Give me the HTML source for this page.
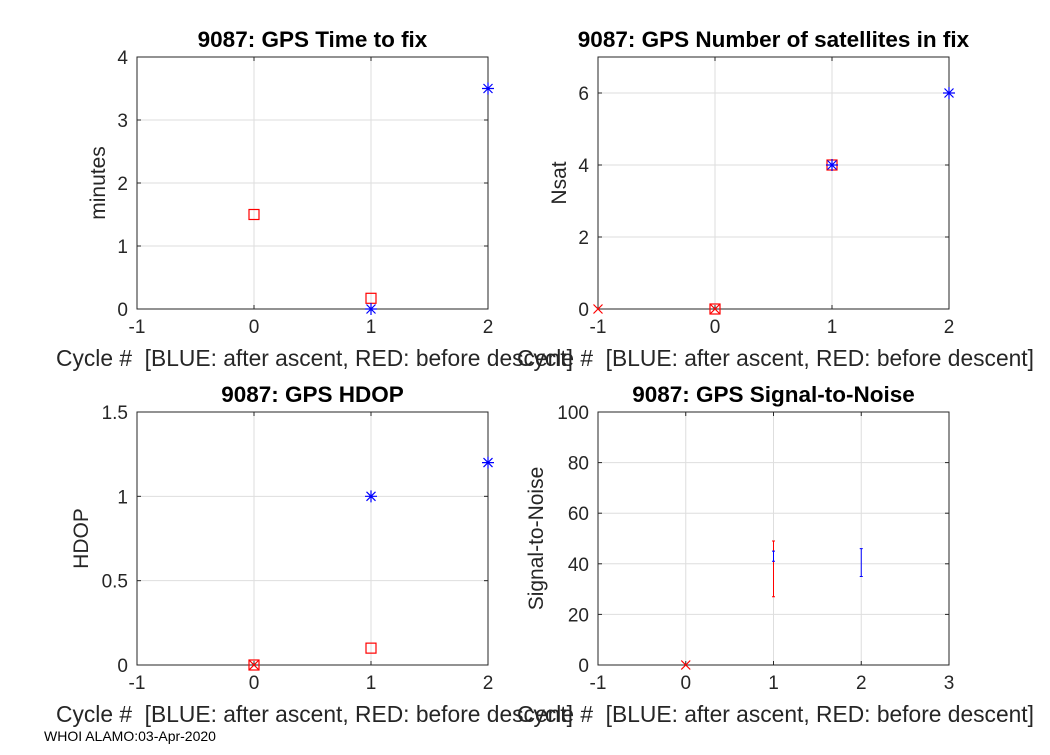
<!DOCTYPE html>
<html><head><meta charset="utf-8"><style>
body{margin:0;background:#fff;width:1050px;height:750px;overflow:hidden;font-family:"Liberation Sans",Arial,sans-serif}
svg text{font-family:"Liberation Sans",Arial,sans-serif;white-space:pre}
</style></head><body>
<svg id="fig" width="1050" height="750"></svg>
<script>
// Data arrays
const p1Blue = [[1,0],[2,3.5]];
const p1Red = [[0,1.5],[1,0.17]];
const p2Blue = [[1,4],[2,6]];
const p2RedSq = [[0,0],[1,4]];
const p2RedX = [[-1,0],[0,0]];
const p3Blue = [[1,1],[2,1.2]];
const p3RedSq = [[0,0],[1,0.1]];
const p3RedX = [[0,0]];
const p4RedX = [[0,0]];
const p4RedErr = [[1,27,49]];
const p4BlueErr = [[1,41,45],[2,35,46]];
const xTicks13 = [-1,0,1,2,3];
const xTicks12 = [-1,0,1,2];

const NS='http://www.w3.org/2000/svg';
const svg=document.getElementById('fig');
function mk(tag,attrs,parent){const e=document.createElementNS(NS,tag);for(const k in attrs)e.setAttribute(k,attrs[k]);(parent||svg).appendChild(e);return e;}

function panel(cfg){
  const g=mk('g',{});
  
  
  const X=v=>cfg.x0+(v-cfg.xmin)/(cfg.xmax-cfg.xmin)*(cfg.x1-cfg.x0);
  const Y=v=>cfg.y1-(v-cfg.ymin)/(cfg.ymax-cfg.ymin)*(cfg.y1-cfg.y0);
  cfg.xt.forEach(t=>{mk('line',{x1:X(t),x2:X(t),y1:cfg.y0,y2:cfg.y1,stroke:'#dedede'},g);});
  cfg.yt.forEach(t=>{mk('line',{x1:cfg.x0,x2:cfg.x1,y1:Y(t),y2:Y(t),stroke:'#dedede'},g);});
  mk('rect',{x:cfg.x0,y:cfg.y0,width:cfg.x1-cfg.x0,height:cfg.y1-cfg.y0,stroke:'#262626',fill:'none'},g);
  cfg.xt.forEach(t=>{mk('line',{x1:X(t),x2:X(t),y1:cfg.y1,y2:cfg.y1-4,stroke:'#262626'},g);
    mk('line',{x1:X(t),x2:X(t),y1:cfg.y0,y2:cfg.y0+4,stroke:'#262626'},g);
    const tx=mk('text',{x:X(t),y:cfg.y1+24,'text-anchor':'middle','font-size':19,fill:'#262626'},g);tx.textContent=t;
    });
  cfg.yt.forEach((t,i)=>{mk('line',{x1:cfg.x0,x2:cfg.x0+4,y1:Y(t),y2:Y(t),stroke:'#262626'},g);
    mk('line',{x1:cfg.x1,x2:cfg.x1-4,y1:Y(t),y2:Y(t),stroke:'#262626'},g);
    const tx=mk('text',{x:cfg.x0-9,y:Y(t)+7,'text-anchor':'end','font-size':19,fill:'#262626'},g);tx.textContent=t;
    });
  const ti=mk('text',{x:(cfg.x0+cfg.x1)/2,y:cfg.y0-10,'text-anchor':'middle','font-size':22.5,'font-weight':'bold',fill:'#000'},g);ti.textContent=cfg.title;
  
  const xl=mk('text',{x:(cfg.x0+cfg.x1)/2+2,y:cfg.y1+57,'text-anchor':'middle','font-size':22.8,fill:'#262626'},g);xl.textContent='Cycle #  [BLUE: after ascent, RED: before descent]';
  
  const cy=(cfg.y0+cfg.y1)/2;
  const yl=mk('text',{x:cfg.ylx,y:cy,'text-anchor':'middle','font-size':21,fill:'#262626',transform:`rotate(-90 ${cfg.ylx} ${cy})`},g);yl.textContent=cfg.ylabel;
  
  return {g,X,Y};
}
function star(g,x,y){const p=mk('path',{d:`M${x-6} ${y}H${x+6}M${x} ${y-6}V${y+6}M${x-4.5} ${y-4.5}L${x+4.5} ${y+4.5}M${x-4.5} ${y+4.5}L${x+4.5} ${y-4.5}`,stroke:'#0000ff','stroke-width':1.2,fill:'none'},g);
  }
function sq(g,x,y){const r=mk('rect',{x:x-5,y:y-5,width:10,height:10,stroke:'#ff0000','stroke-width':1.2,fill:'none'},g);
  }
function xm(g,x,y){const p=mk('path',{d:`M${x-4.5} ${y-4.5}L${x+4.5} ${y+4.5}M${x-4.5} ${y+4.5}L${x+4.5} ${y-4.5}`,stroke:'#ff0000','stroke-width':1.2},g);
  }
function err(g,x,ya,yb,c){const p=mk('path',{d:`M${x} ${ya}V${yb}M${x-1.5} ${ya}H${x+1.5}M${x-1.5} ${yb}H${x+1.5}`,stroke:c,'stroke-width':1,fill:'none'},g);
  }

let a=panel({name:'time-to-fix-panel',x0:137,x1:488,y0:57,y1:309,xmin:-1,xmax:2,ymin:0,ymax:4,xt:xTicks12,yt:[0,1,2,3,4],title:'9087: GPS Time to fix',ylabel:'minutes',ylx:105});
p1Red.forEach(d=>sq(a.g,a.X(d[0]),a.Y(d[1])));
p1Blue.forEach(d=>star(a.g,a.X(d[0]),a.Y(d[1])));

a=panel({name:'num-satellites-panel',x0:598,x1:949,y0:57,y1:309,xmin:-1,xmax:2,ymin:0,ymax:7,xt:xTicks12,yt:[0,2,4,6],title:'9087: GPS Number of satellites in fix',ylabel:'Nsat',ylx:566});
p2RedSq.forEach(d=>sq(a.g,a.X(d[0]),a.Y(d[1])));
p2RedX.forEach(d=>xm(a.g,a.X(d[0]),a.Y(d[1])));
p2Blue.forEach(d=>star(a.g,a.X(d[0]),a.Y(d[1])));

a=panel({name:'hdop-panel',x0:137,x1:488,y0:412,y1:665,xmin:-1,xmax:2,ymin:0,ymax:1.5,xt:xTicks12,yt:[0,0.5,1,1.5],title:'9087: GPS HDOP',ylabel:'HDOP',ylx:88});
p3RedSq.forEach(d=>sq(a.g,a.X(d[0]),a.Y(d[1])));
p3RedX.forEach(d=>xm(a.g,a.X(d[0]),a.Y(d[1])));
p3Blue.forEach(d=>star(a.g,a.X(d[0]),a.Y(d[1])));

a=panel({name:'signal-to-noise-panel',x0:598,x1:949,y0:412,y1:665,xmin:-1,xmax:3,ymin:0,ymax:100,xt:xTicks13,yt:[0,20,40,60,80,100],title:'9087: GPS Signal-to-Noise',ylabel:'Signal-to-Noise',ylx:543});
p4RedErr.forEach(d=>err(a.g,a.X(d[0]),a.Y(d[1]),a.Y(d[2]),'#ff0000'));
p4BlueErr.forEach(d=>err(a.g,a.X(d[0]),a.Y(d[1]),a.Y(d[2]),'#0000ff'));
p4RedX.forEach(d=>xm(a.g,a.X(d[0]),a.Y(d[1])));

const ft=mk('text',{x:44,y:741,'font-size':14,fill:'#000'});ft.textContent='WHOI ALAMO:03-Apr-2020';


</script>
</body></html>
